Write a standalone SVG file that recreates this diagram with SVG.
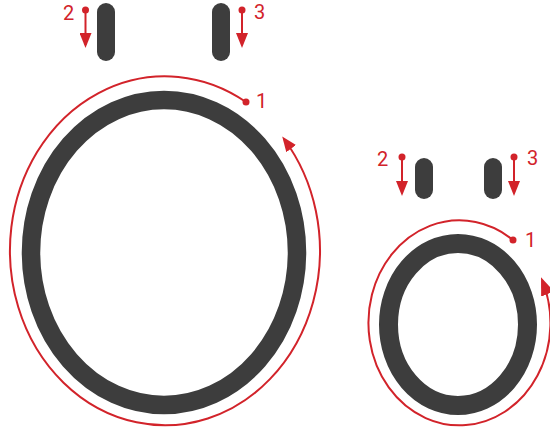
<svg xmlns="http://www.w3.org/2000/svg" width="550" height="435" viewBox="0 0 550 435">
<style>
.ring{fill:none;stroke:#3d3d3d;stroke-width:18.5}
.pill{fill:#3d3d3d}
.red{fill:none;stroke:#d2232a;stroke-width:2}
.dot{fill:#d2232a}
.lbl{font-family:Roboto,"Liberation Sans",sans-serif;font-size:20px;fill:#d2232a}
</style>
<defs>
<marker id="ah" markerUnits="userSpaceOnUse" viewBox="0 0 15 12" refX="12" refY="6" markerWidth="15" markerHeight="12" orient="auto">
<path d="M0,0 L15,6 L0,12 z" fill="#d2232a"/>
</marker>
<marker id="ah2" markerUnits="userSpaceOnUse" viewBox="0 0 18 14" refX="14" refY="7" markerWidth="18" markerHeight="14" orient="auto">
<path d="M0,0 L18,7 L0,14 z" fill="#d2232a"/>
</marker>
</defs>
<g id="large-ring">
<ellipse class="ring" cx="164" cy="252.5" rx="133" ry="152.5"/>
</g>
<g id="large-pill-left"><rect class="pill" x="97" y="3" width="18" height="58" rx="9"/></g>
<g id="large-pill-right"><rect class="pill" x="212" y="3" width="18" height="58" rx="9"/></g>
<g id="small-ring">
<ellipse class="ring" cx="458" cy="324.5" rx="69.5" ry="81" style="stroke-width:19"/>
</g>
<g id="small-pill-left"><rect class="pill" x="415" y="158" width="18" height="41" rx="9"/></g>
<g id="small-pill-right"><rect class="pill" x="484" y="158" width="18" height="41" rx="9"/></g>
<g id="connectors">
<path class="red" d="M246,102 A155,174.5 0 1 0 284,139" marker-end="url(#ah)"/>
<circle class="dot" cx="246" cy="102" r="3.5"/>
<path class="red" d="M85.5,10 V45" marker-end="url(#ah)"/>
<circle class="dot" cx="85.5" cy="10" r="3.5"/>
<path class="red" d="M242,10 V45" marker-end="url(#ah)"/>
<circle class="dot" cx="242" cy="10" r="3.5"/>
<path class="red" d="M513,240 A91,102.5 0 1 0 542.5,281" marker-end="url(#ah2)"/>
<circle class="dot" cx="513" cy="240" r="3.5"/>
<path class="red" d="M402,157 V193" marker-end="url(#ah)"/>
<circle class="dot" cx="402" cy="157" r="3.5"/>
<path class="red" d="M514,157 V193" marker-end="url(#ah)"/>
<circle class="dot" cx="514" cy="157" r="3.5"/>
</g>
<g id="labels">
<text class="lbl" x="63" y="20">2</text>
<text class="lbl" x="254" y="19">3</text>
<text class="lbl" x="256" y="108">1</text>
<text class="lbl" x="377" y="166">2</text>
<text class="lbl" x="527" y="165">3</text>
<text class="lbl" x="525" y="247">1</text>
</g>
</svg>
